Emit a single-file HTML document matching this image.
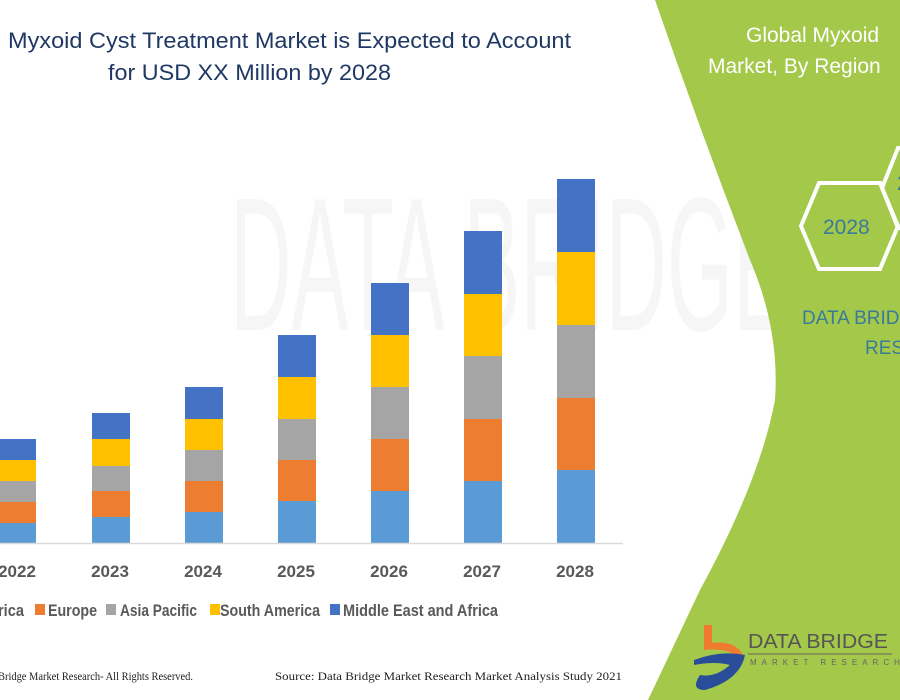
<!DOCTYPE html>
<html><head><meta charset="utf-8"><style>
html,body{margin:0;padding:0;background:#fff;}
svg{display:block;}
</style></head><body>
<svg width="900" height="700" viewBox="0 0 900 700" xmlns="http://www.w3.org/2000/svg" font-family="Liberation Sans, sans-serif">
<rect width="900" height="700" fill="#fff"/>
<!-- watermark -->
<text x="230" y="330" font-size="190" fill="#f6f6f6" textLength="560" lengthAdjust="spacingAndGlyphs">DATA BRIDGE</text>
<!-- green panel -->
<path d="M655,0 L900,0 L900,700 L648,700 L700,590 Q760,480 775,400 Q780,330 750,260 Q700,130 655,0 Z" fill="#a3c84a"/>
<!-- title -->
<g fill="#1f3864" font-size="22">
<text x="8" y="48" textLength="563" lengthAdjust="spacingAndGlyphs">Myxoid Cyst Treatment Market is Expected to Account</text>
<text x="108" y="80" textLength="283" lengthAdjust="spacingAndGlyphs">for USD XX Million by 2028</text>
</g>
<!-- bars -->
<g>
<rect x="-1" y="523" width="37" height="20" fill="#5b9bd5"/><rect x="-1" y="502" width="37" height="21" fill="#ed7d31"/><rect x="-1" y="481" width="37" height="21" fill="#a5a5a5"/><rect x="-1" y="460" width="37" height="21" fill="#ffc000"/><rect x="-1" y="439" width="37" height="21" fill="#4472c4"/>
<rect x="92" y="517" width="38" height="26" fill="#5b9bd5"/><rect x="92" y="491" width="38" height="26" fill="#ed7d31"/><rect x="92" y="466" width="38" height="25" fill="#a5a5a5"/><rect x="92" y="439" width="38" height="27" fill="#ffc000"/><rect x="92" y="413" width="38" height="26" fill="#4472c4"/>
<rect x="185" y="512" width="38" height="31" fill="#5b9bd5"/><rect x="185" y="481" width="38" height="31" fill="#ed7d31"/><rect x="185" y="450" width="38" height="31" fill="#a5a5a5"/><rect x="185" y="419" width="38" height="31" fill="#ffc000"/><rect x="185" y="387" width="38" height="32" fill="#4472c4"/>
<rect x="278" y="501" width="38" height="42" fill="#5b9bd5"/><rect x="278" y="460" width="38" height="41" fill="#ed7d31"/><rect x="278" y="419" width="38" height="41" fill="#a5a5a5"/><rect x="278" y="377" width="38" height="42" fill="#ffc000"/><rect x="278" y="335" width="38" height="42" fill="#4472c4"/>
<rect x="371" y="491" width="38" height="52" fill="#5b9bd5"/><rect x="371" y="439" width="38" height="52" fill="#ed7d31"/><rect x="371" y="387" width="38" height="52" fill="#a5a5a5"/><rect x="371" y="335" width="38" height="52" fill="#ffc000"/><rect x="371" y="283" width="38" height="52" fill="#4472c4"/>
<rect x="464" y="481" width="38" height="62" fill="#5b9bd5"/><rect x="464" y="419" width="38" height="62" fill="#ed7d31"/><rect x="464" y="356" width="38" height="63" fill="#a5a5a5"/><rect x="464" y="294" width="38" height="62" fill="#ffc000"/><rect x="464" y="231" width="38" height="63" fill="#4472c4"/>
<rect x="557" y="470" width="38" height="73" fill="#5b9bd5"/><rect x="557" y="398" width="38" height="72" fill="#ed7d31"/><rect x="557" y="325" width="38" height="73" fill="#a5a5a5"/><rect x="557" y="252" width="38" height="73" fill="#ffc000"/><rect x="557" y="179" width="38" height="73" fill="#4472c4"/>
</g>
<line x1="0" y1="543.5" x2="623" y2="543.5" stroke="#d9d9d9" stroke-width="1.5"/>
<!-- year labels -->
<g fill="#595959" font-size="17" font-weight="bold" text-anchor="middle">
<text x="17" y="577">2022</text><text x="110" y="577">2023</text><text x="203" y="577">2024</text><text x="296" y="577">2025</text><text x="389" y="577">2026</text><text x="482" y="577">2027</text><text x="575" y="577">2028</text>
</g>
<!-- legend -->
<g fill="#595959" font-size="17" font-weight="bold">
<text x="-2" y="616" textLength="26" lengthAdjust="spacingAndGlyphs">rica</text>
<rect x="35" y="604" width="10" height="11" fill="#ed7d31"/><text x="48" y="616" textLength="49" lengthAdjust="spacingAndGlyphs">Europe</text>
<rect x="106" y="604" width="10" height="11" fill="#a5a5a5"/><text x="120" y="616" textLength="77" lengthAdjust="spacingAndGlyphs">Asia Pacific</text>
<rect x="210" y="604" width="10" height="11" fill="#ffc000"/><text x="220" y="616" textLength="100" lengthAdjust="spacingAndGlyphs">South America</text>
<rect x="330" y="604" width="10" height="11" fill="#4472c4"/><text x="343" y="616" textLength="155" lengthAdjust="spacingAndGlyphs">Middle East and Africa</text>
</g>
<g fill="#222" font-family="Liberation Serif, serif" font-size="12">
<text x="-2" y="680" textLength="195" lengthAdjust="spacingAndGlyphs">Bridge Market Research- All Rights Reserved.</text>
<text x="275" y="680" textLength="347" lengthAdjust="spacingAndGlyphs">Source: Data Bridge Market Research Market Analysis Study 2021</text>
</g>
<!-- right panel content -->
<g fill="#fff" font-size="21">
<text x="746" y="42">Global Myxoid</text>
<text x="708" y="73">Market, By Region</text>
</g>
<polygon points="801,226 819,183 880,183 898,226 880,269 819,269" fill="none" stroke="#fff" stroke-width="4"/>
<polygon points="882,188 898,148 960,148 976,188 960,228 898,228" fill="none" stroke="#fff" stroke-width="4"/>
<text x="823" y="234" fill="#3a7a9a" font-size="21">2028</text>
<text x="897" y="190" fill="#3a7a9a" font-size="21">2</text>
<g fill="#3a7a9a" font-size="19">
<text x="802" y="324">DATA BRID</text>
<text x="865" y="354">RES</text>
</g>
<!-- logo -->
<path d="M704,625 L712,625 L712,643 Q735,640 743,655 L735,655 Q725,648 704,650 Z" fill="#f07b2f"/>
<path d="M694,660 Q720,650 745,655 Q740,680 705,690 Q690,690 700,675 Q715,678 730,665 Q715,661 694,665 Z" fill="#2a4d9a"/>
<text x="748" y="648" fill="#555" font-size="20" textLength="140" lengthAdjust="spacingAndGlyphs">DATA BRIDGE</text>
<line x1="748" y1="654" x2="892" y2="654" stroke="#666" stroke-width="1"/>
<text x="750" y="665" fill="#666" font-size="8" letter-spacing="5">MARKET RESEARCH</text>
</svg>
</body></html>
